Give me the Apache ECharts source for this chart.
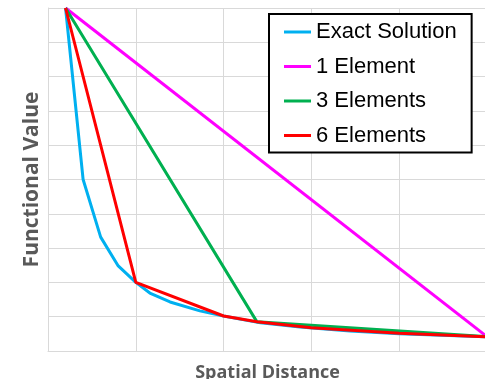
<!DOCTYPE html>
<html>
<head>
<meta charset="utf-8">
<script src="https://cdn.jsdelivr.net/npm/echarts@6/dist/echarts.min.js"></script>
<style>html,body{margin:0;padding:0;background:#fff;}#c{width:485px;height:379px;}</style>
</head>
<body>
<div id="c"></div>
<script>
const seriesNames = ['Exact Solution', '1 Element', '3 Elements', '6 Elements'];
const exactX = [0.2, 0.4, 0.6, 0.8, 1.0, 1.16, 1.39, 1.73, 2.0, 2.42, 2.87, 3.44, 4.0, 5.0];
const exactY = [10, 5.0, 3.32, 2.48, 2.0, 1.69, 1.43, 1.17, 1.02, 0.82, 0.70, 0.58, 0.50, 0.41];
const oneX = [0.2, 5.0];
const oneY = [10, 0.42];
const threeX = [0.2, 2.38, 5.0];
const threeY = [10, 0.85, 0.42];
const sixX = [0.2, 1.0, 2.0, 2.38, 3.0, 4.0, 5.0];
const sixY = [10, 2.0, 1.02, 0.85, 0.68, 0.52, 0.41];
const colors = ['#00B0F0', '#FF00FF', '#00B050', '#FF0000'];

function pts(xs, ys) { return xs.map((x, i) => [x, ys[i]]); }
const allData = [pts(exactX, exactY), pts(oneX, oneY), pts(threeX, threeY), pts(sixX, sixY)];

const chart = echarts.init(document.getElementById('c'), null, {renderer: 'canvas'});
chart.setOption({
  animation: false,
  backgroundColor: '#fff',
  grid: {left: 48, top: 8, right: -2, bottom: 28, containLabel: false, outerBoundsMode: 'none'},
  xAxis: {
    type: 'value', min: 0, max: 5, interval: 1,
    name: 'Spatial Distance', nameLocation: 'middle', nameGap: 13,
    nameTextStyle: {fontFamily: 'Open Sans', fontWeight: 'bold', fontSize: 18, color: '#595959'},
    axisLine: {show: true, lineStyle: {color: '#D9D9D9', width: 1}},
    axisTick: {show: false}, axisLabel: {show: false},
    splitLine: {show: true, lineStyle: {color: '#D9D9D9', width: 1}}
  },
  yAxis: {
    type: 'value', min: 0, max: 10, interval: 1,
    name: 'Functional Value', nameLocation: 'middle', nameGap: 5, nameRotate: 90,
    nameTextStyle: {fontFamily: 'Open Sans', fontWeight: 'bold', fontSize: 21, color: '#595959'},
    axisLine: {show: true, lineStyle: {color: '#D9D9D9', width: 1}},
    axisTick: {show: false}, axisLabel: {show: false},
    splitLine: {show: true, lineStyle: {color: '#D9D9D9', width: 1}}
  },
  legend: {
    orient: 'vertical', left: 269, top: 14,
    backgroundColor: '#fff', borderColor: '#000', borderWidth: 2,
    padding: [7, 15, 6, 15],
    itemWidth: 27, itemHeight: 3, itemGap: 12.5, icon: 'rect',
    textStyle: {fontFamily: 'Liberation Sans', fontSize: 22, color: '#000', lineHeight: 22},
    data: seriesNames
  },
  series: seriesNames.map((n, i) => ({
    name: n, type: 'line', data: allData[i], symbol: 'none',
    lineStyle: {color: colors[i], width: 3}, itemStyle: {color: colors[i]},
    z: 2 + i
  }))
});
</script>
</body>
</html>
